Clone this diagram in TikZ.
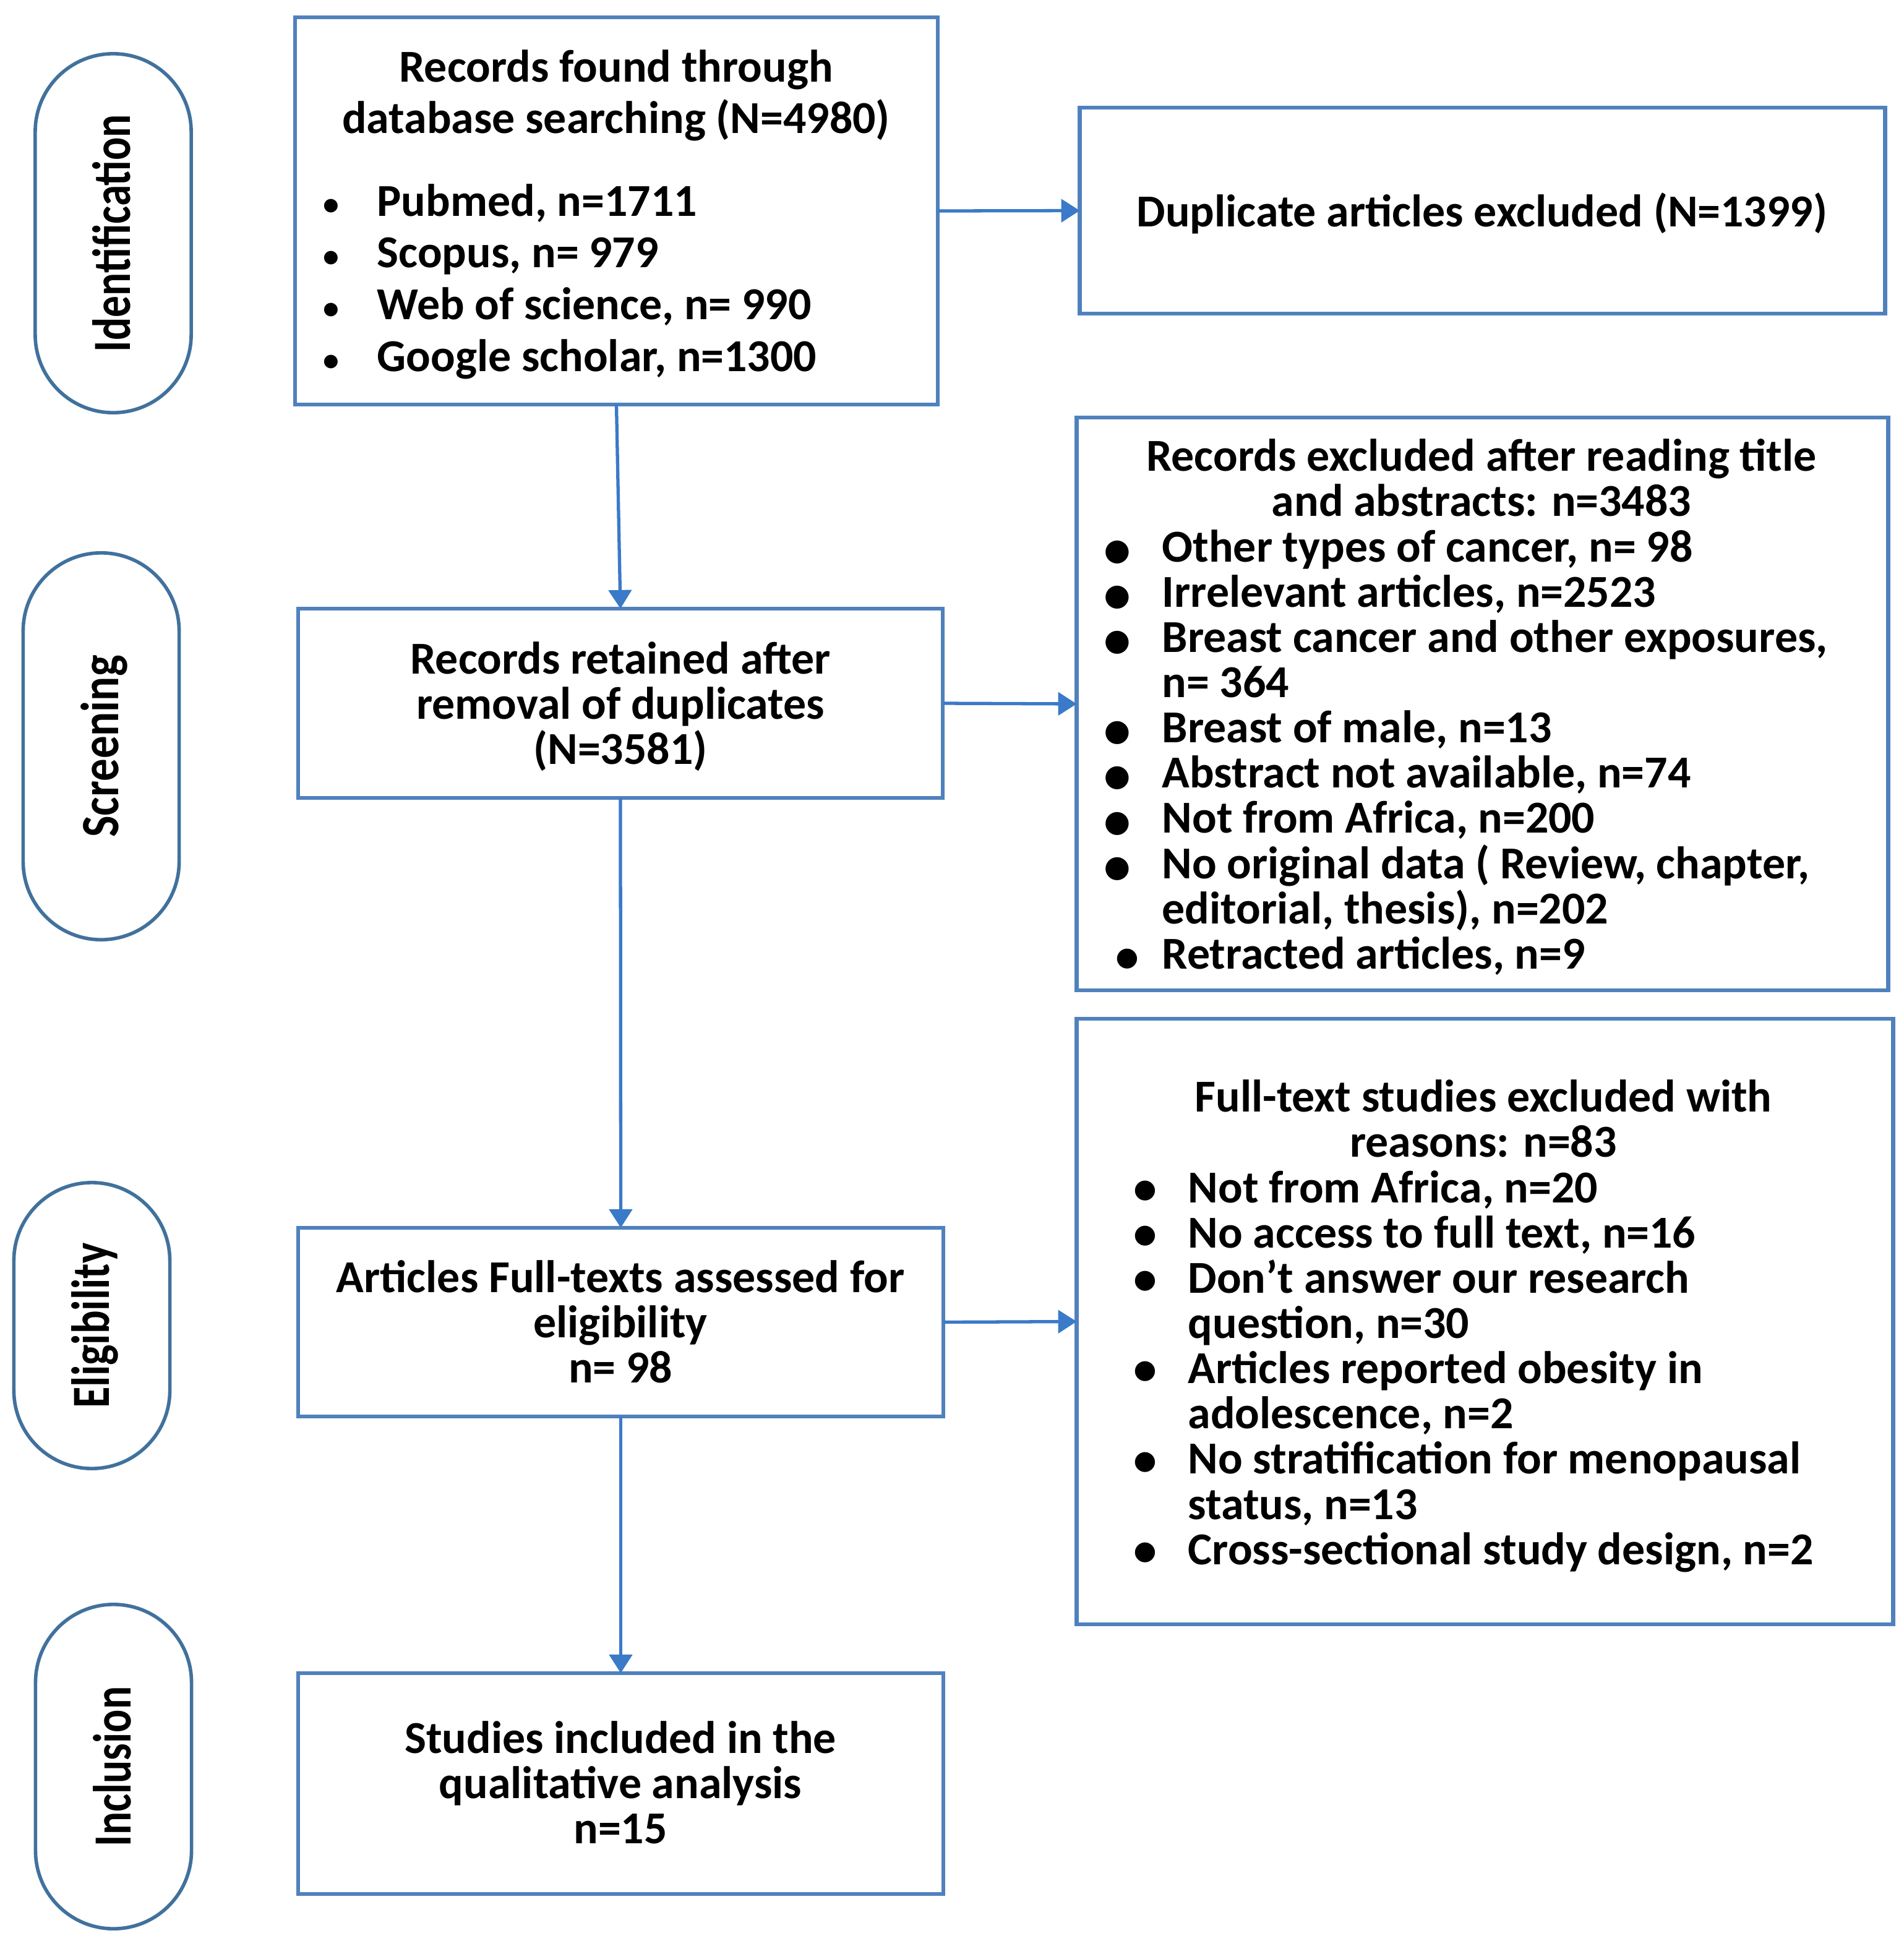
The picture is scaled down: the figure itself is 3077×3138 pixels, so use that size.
\documentclass[tikz,border=0pt]{standalone}
\usepackage{fontspec}
\setmainfont{Carlito}
\usetikzlibrary{arrows.meta}
\definecolor{boxblue}{RGB}{79,129,189}
\definecolor{pillblue}{RGB}{65,113,156}
\definecolor{arrblue}{RGB}{58,122,200}
\newcommand\bul[3]{\leavevmode\llap{\makebox[#1][c]{\raisebox{#3}{\scalebox{#2}{\textbullet}}}}}
\begin{document}
\begin{tikzpicture}[x=0.01cm,y=-0.01cm,
  box/.style={draw=boxblue,line width=1.8pt,inner sep=0pt,outer sep=0pt,rectangle},
  pill/.style={draw=pillblue,line width=1.6pt,rounded corners=1.26cm,inner sep=0pt,outer sep=0pt,minimum width=2.52cm},
  lab/.style={rotate=90,anchor=base,inner sep=0pt,font=\bfseries\fontsize{24.7}{24.7}\selectfont},
  txt/.style={inner sep=0pt,anchor=base,font=\bfseries\fontsize{21}{20.8}\selectfont},
  lst/.style={inner sep=0pt,anchor=base west,font=\bfseries\fontsize{21}{20.8}\selectfont},
  arr/.style={draw=arrblue,line width=1.5pt,-{Triangle[width=0.37cm,length=0.3cm]}}]
\useasboundingbox[fill=white] (0,0) rectangle (3077,3138);

% boxes
\node[box,minimum width=10.39cm,minimum height=6.26cm] (rec) at (996.5,341) {};
\node[box,minimum width=13.01cm,minimum height=3.33cm] (dup) at (2396.5,340.5) {};
\node[box,minimum width=10.42cm,minimum height=3.06cm] (ret) at (1003,1137) {};
\node[box,minimum width=13.11cm,minimum height=9.26cm] (exc) at (2396.5,1138) {};
\node[box,minimum width=10.43cm,minimum height=3.05cm] (full) at (1003.5,2137.5) {};
\node[box,minimum width=13.19cm,minimum height=9.79cm] (fexc) at (2400.5,2136.5) {};
\node[box,minimum width=10.43cm,minimum height=3.57cm] (inc) at (1003.5,2883.5) {};

% stage pills
\node[pill,minimum height=5.80cm] (pid) at (183,377) {};
\node[pill,minimum height=6.25cm] (psc) at (163.5,1206.5) {};
\node[pill,minimum height=4.62cm] (pel) at (148.5,2143) {};
\node[pill,minimum height=5.24cm] (pin) at (183.5,2856) {};
\node[lab] (lid) at ([xshift=0.275cm]pid.center) {\scalebox{0.8}[1]{Identification}};
\node[lab] (lsc) at ([xshift=0.275cm]psc.center) {\scalebox{0.84}[1]{Screening}};
\node[lab] (lel) at ([xshift=0.275cm]pel.center) {\scalebox{0.81}[1]{Eligibility}};
\node[lab] (lin) at ([xshift=0.275cm]pin.center) {\scalebox{0.8}[1]{Inclusion}};

% texts
\node[txt] (trec) at (996,132) {\parbox[t]{10cm}{\centering\lineskiplimit=-100pt\baselineskip=23.6pt Records found through\\database searching (N=4980)}};
\node[lst] (lrec) at (609,349) {\parbox[t]{8.5cm}{\raggedright\lineskiplimit=-100pt\baselineskip=23.8pt
\bul{42pt}{0.7}{0.3pt}Pubmed, n=1711\\
\bul{42pt}{0.7}{0.3pt}Scopus, n= 979\\
\bul{42pt}{0.7}{0.3pt}Web of science, n= 990\\
\bul{42pt}{0.7}{0.3pt}Google scholar, n=1300}};

\node[txt] (tdup) at (2396,366) {Duplicate articles excluded (N=1399)};

\node[txt] (tret) at (1003,1089) {\parbox[t]{10cm}{\centering\lineskiplimit=-100pt\baselineskip=20.8pt Records retained after\\removal of duplicates\\(N=3581)}};

\node[txt] (texc) at (2395,761) {\parbox[t]{12.5cm}{\centering\lineskiplimit=-100pt\baselineskip=20.8pt Records excluded after reading title\\and abstracts: n=3483}};
\node[lst] (lexc) at (1878,908) {\parbox[t]{11.5cm}{\raggedright\lineskiplimit=-100pt\baselineskip=20.8pt
\bul{41.4pt}{1.19}{-2.6pt}Other types of cancer, n= 98\\
\bul{41.4pt}{1.19}{-2.6pt}Irrelevant articles, n=2523\\
\bul{41.4pt}{1.19}{-2.6pt}Breast cancer and other exposures,\\
n= 364\\
\bul{41.4pt}{1.19}{-2.6pt}Breast of male, n=13\\
\bul{41.4pt}{1.19}{-2.6pt}Abstract not available, n=74\\
\bul{41.4pt}{1.19}{-2.6pt}Not from Africa, n=200\\
\bul{41.4pt}{1.19}{-2.6pt}No original data ( Review, chapter,\\
editorial, thesis), n=202\\
\bul{31.8pt}{1.03}{-1.4pt}Retracted articles, n=9}};

\node[txt] (tfull) at (1003,2089) {\parbox[t]{10cm}{\centering\lineskiplimit=-100pt\baselineskip=20.8pt Articles Full-texts assessed for\\eligibility\\n= 98}};

\node[txt] (tinc) at (1003,2834) {\parbox[t]{10cm}{\centering\lineskiplimit=-100pt\baselineskip=20.8pt Studies included in the\\qualitative analysis\\n=15}};

\node[txt] (tfexc) at (2398,1797) {\parbox[t]{12.5cm}{\centering\lineskiplimit=-100pt\baselineskip=20.8pt Full-text studies excluded with\\reasons: n=83}};
\node[lst] (lfexc) at (1920,1944) {\parbox[t]{11.5cm}{\raggedright\lineskiplimit=-100pt\baselineskip=20.8pt
\bul{39.2pt}{1.03}{-0.6pt}Not from Africa, n=20\\
\bul{39.2pt}{1.03}{-0.6pt}No access to full text, n=16\\
\bul{39.2pt}{1.03}{-0.6pt}Don’t answer our research\\
question, n=30\\
\bul{39.2pt}{1.03}{-0.6pt}Articles reported obesity in\\
adolescence, n=2\\
\bul{39.2pt}{1.03}{-0.6pt}No stratification for menopausal\\
status, n=13\\
\bul{39.2pt}{1.03}{-0.6pt}Cross-sectional study design, n=2}};

% connectors
\draw[arr] (rec.south) -- (ret.north);
\draw[arr] (rec.east) -- (dup.west);
\draw[arr] (ret.east) -- (exc.west);
\draw[arr] (ret.south) -- (full.north);
\draw[arr] (full.east) -- (fexc.west);
\draw[arr] (full.south) -- (inc.north);
\end{tikzpicture}
\end{document}
